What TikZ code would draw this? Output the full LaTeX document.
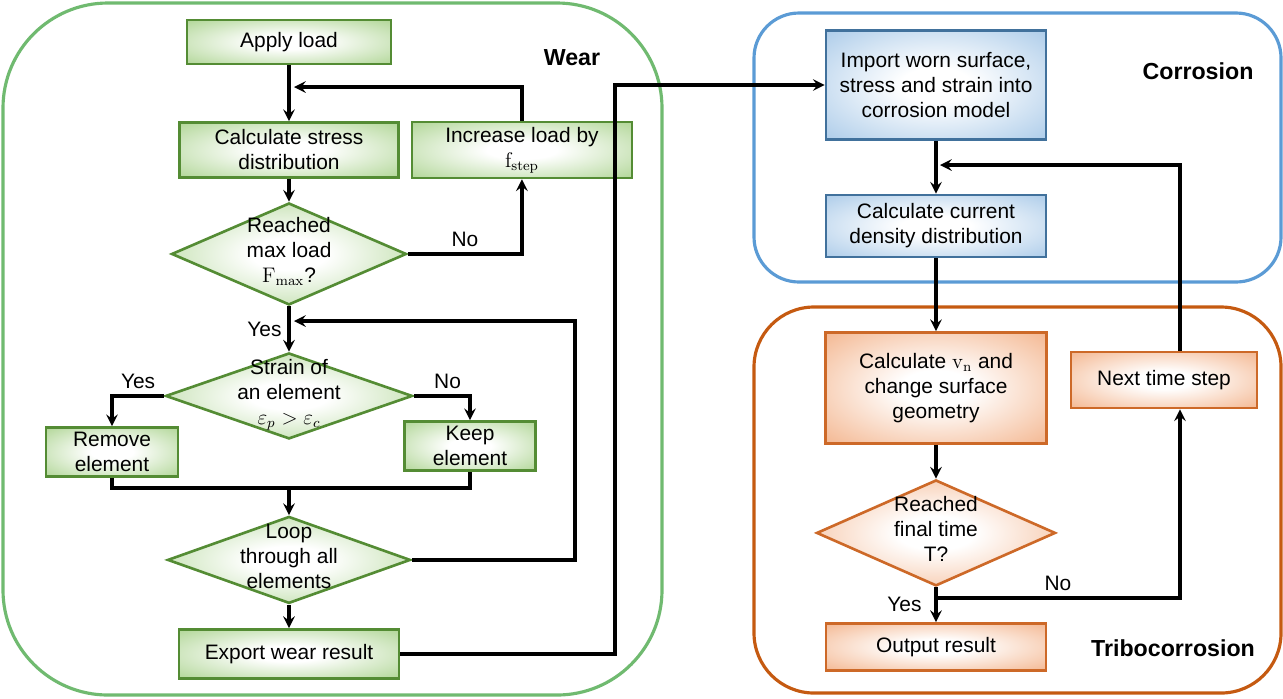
\documentclass[tikz,border=0pt]{standalone}
\usepackage[no-math]{fontspec}
\setmainfont{Liberation Sans}
\usetikzlibrary{shapes.geometric,positioning}

\definecolor{wearline}{RGB}{112,186,112}
\definecolor{wearedge}{RGB}{84,140,52}
\definecolor{wearfill}{RGB}{165,208,135}
\definecolor{corrline}{RGB}{91,155,213}
\definecolor{corredge}{RGB}{65,113,156}
\definecolor{corrfill}{RGB}{160,196,230}
\definecolor{tribline}{RGB}{197,90,17}
\definecolor{tribedge}{RGB}{205,105,40}
\definecolor{tribfill}{RGB}{242,172,128}

\pgfdeclareradialshading{wearshade}{\pgfpoint{0bp}{0bp}}{color(0bp)=(white); color(8bp)=(white); color(40bp)=(wearfill); color(100bp)=(wearfill)}
\pgfdeclareradialshading{corrshade}{\pgfpoint{0bp}{0bp}}{color(0bp)=(white); color(8bp)=(white); color(40bp)=(corrfill); color(100bp)=(corrfill)}
\pgfdeclareradialshading{tribshade}{\pgfpoint{0bp}{0bp}}{color(0bp)=(white); color(8bp)=(white); color(40bp)=(tribfill); color(100bp)=(tribfill)}

\newcommand{\dectext}[1]{\makebox[0pt]{\smash{\raisebox{-2pt}{\begin{tabular}{@{}c@{}}#1\end{tabular}}}}}

\begin{document}
\begin{tikzpicture}[x=0.02cm,y=-0.02cm,-,>=stealth,node distance=2cm,
    every node/.style={font=\fontsize{11.9}{14.2}\selectfont},
    link/.style={->,line width=1.9pt},
    wear box/.style={rectangle,draw=wearedge,line width=1.5pt,shade,shading=wearshade,align=center,inner sep=1pt,minimum width=4.4cm,minimum height=0.98cm},
    wear dec/.style={diamond,draw=wearedge,line width=1.5pt,shade,shading=wearshade,inner sep=0pt},
    corr box/.style={rectangle,draw=corredge,line width=1.5pt,shade,shading=corrshade,align=center,inner sep=1pt,minimum width=4.4cm},
    trib box/.style={rectangle,draw=tribedge,line width=1.5pt,shade,shading=tribshade,align=center,inner sep=1pt,minimum width=4.4cm},
    trib dec/.style={diamond,draw=tribedge,line width=1.5pt,shade,shading=tribshade,inner sep=0pt},
    frame label/.style={font=\bfseries\fontsize{13.2}{15}\selectfont}]
    \useasboundingbox (0,0) rectangle (1283,698);

    % frames
    \draw[wearline,line width=1.8pt,rounded corners=2.1cm] (3,3) rectangle (662,695);
    \draw[corrline,line width=1.8pt,rounded corners=0.9cm] (754,13) rectangle (1281,282);
    \draw[tribline,line width=1.8pt,rounded corners=1.2cm] (754,307) rectangle (1281,693);
    \node[frame label] (wearlabel) at (572,58) {Wear};
    \node[frame label] (corrlabel) at (1198,71) {Corrosion};
    \node[frame label] (triblabel) at (1173,648) {Tribocorrosion};

    % wear
    \node[wear box,minimum width=4.08cm,minimum height=0.88cm] (apply) at (289,42) {Apply load};
    \node[wear box,minimum width=4.38cm,minimum height=1.1cm] (stress) [below of=apply,node distance=2.16cm] {Calculate stress\\distribution};
    \node[wear box,minimum height=1.12cm] (increase) [right of=stress,node distance=4.66cm] {Increase load by\\$\mathrm{f}_{\mathrm{step}}$};
    \node[wear dec,minimum width=4.7cm,minimum height=2.04cm] (maxload) [below of=stress,node distance=2.08cm] {\dectext{Reached\\max load\\$\mathrm{F}_{\mathrm{max}}$?}};
    \node[wear dec,minimum width=4.94cm,minimum height=1.72cm] (strain) [below of=maxload,node distance=2.84cm] {\dectext{Strain of\\an element\\$\varepsilon_p > \varepsilon_c$}};
    \node[wear box,minimum width=2.64cm] (remove) at (112,452) {Remove\\element};
    \node[wear box,minimum width=2.62cm] (keep) at (470,446) {Keep\\element};
    \node[wear dec,minimum width=4.86cm,minimum height=1.74cm] (loop) [below of=strain,node distance=3.28cm] {\dectext{Loop\\through all\\elements}};
    \node[wear box] (export) [below of=loop,node distance=1.88cm] {Export wear result};

    % corrosion
    \node[corr box,minimum height=2.18cm] (import) at (936,85) {Import worn surface,\\stress and strain into\\corrosion model};
    \node[corr box,minimum height=1.24cm] (current) [below of=import,node distance=2.82cm] {Calculate current\\density distribution};

    % tribocorrosion
    \node[trib box,minimum width=4.42cm,minimum height=2.22cm] (vn) [below of=current,node distance=3.24cm] {Calculate $\mathrm{v}_{\mathrm{n}}$ and\\change surface\\geometry};
    \node[trib dec,minimum width=4.78cm,minimum height=2.12cm] (finaltime) [below of=vn,node distance=2.9cm] {\dectext{Reached\\final time\\T?}};
    \node[trib box,minimum height=0.94cm] (output) [below of=finaltime,node distance=2.28cm] {Output result};
    \node[trib box,minimum width=3.72cm,minimum height=1.12cm] (nexttime) at (1164,380) {Next time step};

    \coordinate (incend) at (294,87);
    \coordinate (merge) at (289,488);
    \coordinate (lbcorner) at (575,321);
    \coordinate (lbend) at (294,321);
    \coordinate (wbus) at (615,85);
    \coordinate (ntend) at (940,165);
    \coordinate (ftjoin) at (936,598);

    \draw[link] (apply) -- (stress);
    \draw[link] (stress) -- (maxload);
    \draw[link] (maxload.east) -| node[pos=0.25,above] {No} (increase.south);
    \draw[link] (increase.north) |- (incend);
    \draw[link] (maxload) -- node[left] {Yes} (strain);
    \draw[link] (strain.west) -| node[pos=0.25,above] {Yes} (remove.north);
    \draw[link] (strain.east) -| node[pos=0.3,above] {No} (keep.north);
    \draw[link,-] (remove.south) |- (merge) -| (keep.south);
    \draw[link] (merge) -- (loop);
    \draw[link] (loop.east) -| (lbcorner) -- (lbend);
    \draw[link] (loop) -- (export);
    \draw[link] (export.east) -| (wbus) -- (import.west);

    \draw[link] (import) -- (current);
    \draw[link] ([xshift=0.32cm]nexttime.north) |- (ntend);
    \draw[link] (current) -- (vn);
    \draw[link] (vn) -- (finaltime);
    \draw[link] (finaltime) -- node[left,xshift=-4pt] {Yes} (output);
    \draw[link] (ftjoin) -| node[pos=0.25,above] {No} ([xshift=0.32cm]nexttime.south);
\end{tikzpicture}
\end{document}
